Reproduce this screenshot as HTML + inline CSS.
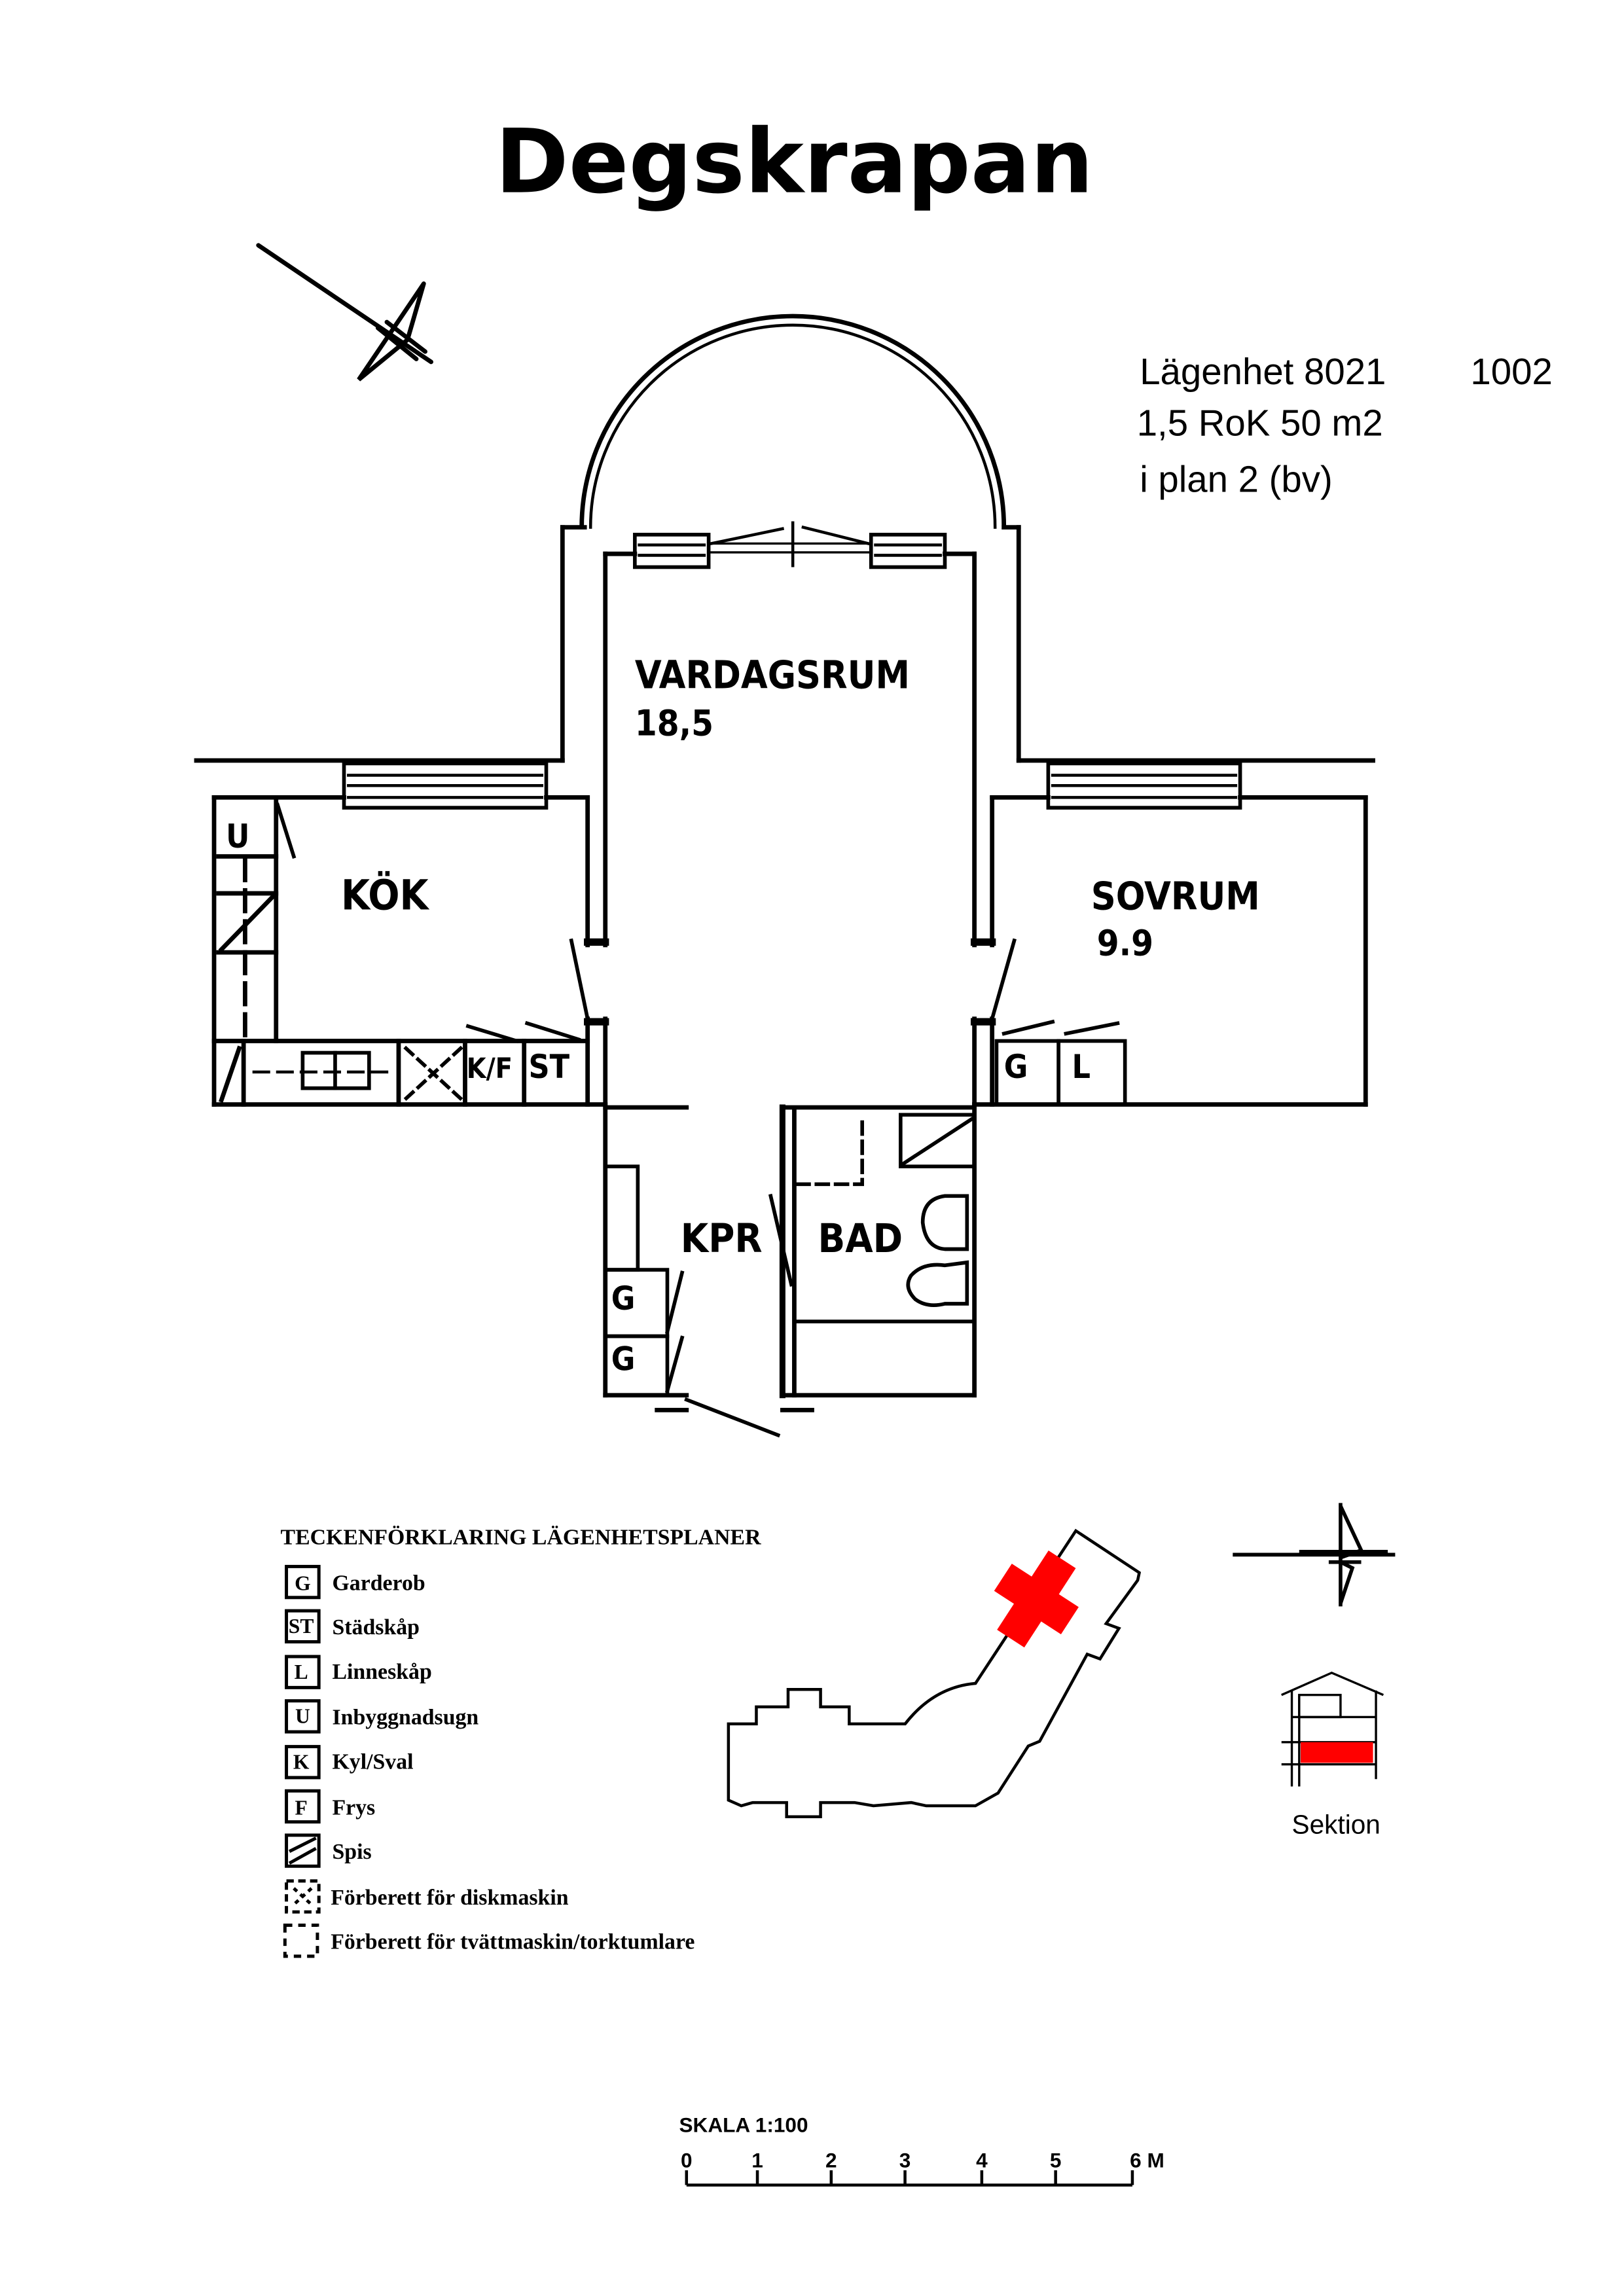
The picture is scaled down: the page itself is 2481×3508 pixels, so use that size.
<!DOCTYPE html>
<html><head><meta charset="utf-8">
<style>
html,body{margin:0;padding:0;background:#fff;}
svg{display:block;}
</style></head>
<body>
<svg width="2481" height="3508" viewBox="0 0 1100 1555" xmlns="http://www.w3.org/2000/svg">
<rect width="1100" height="1555" fill="#fff"/>
<text x="538" y="130" text-anchor="middle" font-family="'DejaVu Sans','Liberation Sans',sans-serif" font-weight="bold" font-size="60">Degskrapan</text>

<g stroke="#000" stroke-width="3" fill="none" stroke-linecap="round">
<line x1="175" y1="166" x2="292" y2="245"/>
<polyline points="287,192 276,230 243,257 287,192"/>
<line x1="256" y1="222" x2="282" y2="243"/>
<line x1="262" y1="218" x2="288" y2="238"/>
</g>

<g font-family="'Liberation Sans',sans-serif" font-size="25" fill="#000">
<text x="772" y="260">Lägenhet  8021</text>
<text x="996" y="260">1002</text>
<text x="770" y="295">1,5 RoK  50 m2</text>
<text x="772" y="333">i  plan 2 (bv)</text>
</g>

<g stroke="#000" stroke-width="3" fill="none" stroke-linecap="square">
<path d="M394,357 A143,143 0 0 1 680,357"/>
<path d="M400,357 A137,137 0 0 1 674,357" stroke-width="2"/>
<line x1="381" y1="357" x2="396" y2="357"/>
<line x1="680" y1="357" x2="690" y2="357"/>
<line x1="410" y1="375" x2="430" y2="375"/>
<line x1="640" y1="375" x2="660" y2="375"/>
<rect x="430" y="362" width="50" height="22" stroke-width="2.5"/>
<line x1="433" y1="369" x2="477" y2="369" stroke-width="2"/>
<line x1="433" y1="376" x2="477" y2="376" stroke-width="2"/>
<rect x="590" y="362" width="50" height="22" stroke-width="2.5"/>
<line x1="593" y1="369" x2="637" y2="369" stroke-width="2"/>
<line x1="593" y1="376" x2="637" y2="376" stroke-width="2"/>
<line x1="480" y1="368" x2="590" y2="368" stroke-width="1.5"/>
<line x1="480" y1="374" x2="590" y2="374" stroke-width="1.5"/>
<line x1="537" y1="354" x2="537" y2="383" stroke-width="2"/>
<line x1="482" y1="368" x2="530" y2="358" stroke-width="2"/>
<line x1="588" y1="368" x2="544" y2="357" stroke-width="2"/>
<line x1="381" y1="357" x2="381" y2="515"/>
<line x1="410" y1="375" x2="410" y2="640"/>
<line x1="398" y1="540" x2="398" y2="640"/>
<line x1="398" y1="638" x2="410" y2="638" stroke-width="5"/>
<line x1="690" y1="357" x2="690" y2="515"/>
<line x1="660" y1="375" x2="660" y2="640"/>
<line x1="672" y1="540" x2="672" y2="640"/>
<line x1="660" y1="638" x2="672" y2="638" stroke-width="5"/>
<line x1="133" y1="515" x2="381" y2="515"/>
<line x1="145" y1="540" x2="233" y2="540"/>
<line x1="370" y1="540" x2="398" y2="540"/>
<rect x="233" y="517" width="137" height="30" stroke-width="2.5"/>
<line x1="236" y1="525" x2="367" y2="525" stroke-width="2"/>
<line x1="236" y1="532" x2="367" y2="532" stroke-width="2"/>
<line x1="236" y1="540" x2="367" y2="540" stroke-width="2"/>
<line x1="145" y1="540" x2="145" y2="748"/>
<line x1="145" y1="748" x2="410" y2="748"/>
<line x1="187" y1="540" x2="187" y2="705"/>
<line x1="148" y1="580" x2="187" y2="580"/>
<line x1="148" y1="605" x2="187" y2="605"/>
<line x1="148" y1="645" x2="187" y2="645"/>
<line x1="166" y1="582" x2="166" y2="705" stroke-dasharray="14,7"/>
<line x1="150" y1="643" x2="185" y2="607"/>
<line x1="145" y1="705" x2="398" y2="705"/>
<line x1="165" y1="705" x2="165" y2="748"/>
<line x1="150" y1="745" x2="162" y2="710"/>
<line x1="270" y1="705" x2="270" y2="748"/>
<line x1="315" y1="705" x2="315" y2="748"/>
<line x1="355" y1="705" x2="355" y2="748"/>
<rect x="205" y="713" width="45" height="24" stroke-width="2.5"/>
<line x1="227" y1="713" x2="227" y2="737" stroke-width="2.5"/>
<line x1="172" y1="726" x2="265" y2="726" stroke-dasharray="10,6" stroke-width="2"/>
<line x1="275" y1="710" x2="312" y2="744" stroke-dasharray="6,5" stroke-width="2.5"/>
<line x1="312" y1="710" x2="275" y2="744" stroke-dasharray="6,5" stroke-width="2.5"/>
<line x1="317" y1="695" x2="350" y2="705" stroke-width="2.5"/>
<line x1="357" y1="693" x2="392" y2="704" stroke-width="2.5"/>
<line x1="188" y1="545" x2="199" y2="580" stroke-width="2.5"/>
<line x1="398" y1="690" x2="398" y2="748"/>
<line x1="410" y1="690" x2="410" y2="748"/>
<line x1="398" y1="692" x2="410" y2="692" stroke-width="5"/>
<line x1="398" y1="690" x2="387" y2="637" stroke-width="2.5"/>
<line x1="690" y1="515" x2="930" y2="515"/>
<line x1="672" y1="540" x2="710" y2="540"/>
<line x1="840" y1="540" x2="925" y2="540"/>
<rect x="710" y="517" width="130" height="30" stroke-width="2.5"/>
<line x1="713" y1="525" x2="837" y2="525" stroke-width="2"/>
<line x1="713" y1="532" x2="837" y2="532" stroke-width="2"/>
<line x1="713" y1="540" x2="837" y2="540" stroke-width="2"/>
<line x1="925" y1="540" x2="925" y2="748"/>
<line x1="660" y1="748" x2="925" y2="748"/>
<line x1="660" y1="690" x2="660" y2="748"/>
<line x1="672" y1="690" x2="672" y2="748"/>
<line x1="660" y1="692" x2="672" y2="692" stroke-width="5"/>
<line x1="672" y1="690" x2="687" y2="637" stroke-width="2.5"/>
<rect x="675" y="705" width="42" height="43" stroke-width="2.5"/>
<rect x="717" y="705" width="45" height="43" stroke-width="2.5"/>
<line x1="680" y1="700" x2="713" y2="692" stroke-width="2.5"/>
<line x1="722" y1="700" x2="757" y2="693" stroke-width="2.5"/>
<line x1="410" y1="748" x2="410" y2="945"/>
<line x1="410" y1="750" x2="465" y2="750"/>
<line x1="660" y1="748" x2="660" y2="945"/>
<line x1="530" y1="750" x2="660" y2="750"/>
<line x1="530" y1="750" x2="530" y2="945" stroke-width="4"/>
<line x1="538" y1="752" x2="538" y2="945"/>
<line x1="410" y1="945" x2="465" y2="945"/>
<line x1="530" y1="945" x2="660" y2="945"/>
<line x1="445" y1="955" x2="465" y2="955"/>
<line x1="530" y1="955" x2="550" y2="955"/>
<line x1="465" y1="948" x2="527" y2="972" stroke-width="2.5"/>
<rect x="410" y="790" width="22" height="70" stroke-width="2.5"/>
<rect x="410" y="860" width="42" height="45" stroke-width="2.5"/>
<rect x="410" y="905" width="42" height="40" stroke-width="2.5"/>
<line x1="452" y1="902" x2="462" y2="862" stroke-width="2.5"/>
<line x1="452" y1="942" x2="462" y2="906" stroke-width="2.5"/>
<line x1="522" y1="810" x2="536" y2="870" stroke-width="2.5"/>
<polyline points="540,802 584,802 584,755" stroke-dasharray="8,5" stroke-width="2.5"/>
<rect x="610" y="755" width="50" height="35" stroke-width="2.5"/>
<line x1="612" y1="788" x2="658" y2="758" stroke-width="2.5"/>
<path d="M655,810 L640,810 Q625,812 625,828 Q627,845 640,846 L655,846 Z" stroke-width="2.5"/>
<path d="M655,855 L640,857 Q625,855 617,864 Q612,872 620,880 Q628,886 640,883 L655,883 Z" stroke-width="2.5"/>
<line x1="538" y1="895" x2="660" y2="895" stroke-width="2.5"/>
</g>

<g font-family="'DejaVu Sans Condensed','DejaVu Sans',sans-serif" fill="#000" font-weight="bold">
<text x="430" y="466" font-size="26">VARDAGSRUM</text>
<text x="430" y="498" font-size="24">18,5</text>
<text x="231" y="616" font-size="28">KÖK</text>
<text x="739" y="616" font-size="26">SOVRUM</text>
<text x="743" y="647" font-size="24">9.9</text>
<text x="461" y="848" font-size="27">KPR</text>
<text x="554" y="848" font-size="27">BAD</text>
<text x="153" y="574" font-size="22">U</text>
<text x="680" y="730" font-size="22">G</text>
<text x="726" y="730" font-size="22">L</text>
<text x="316" y="730" font-size="19">K/F</text>
<text x="358" y="730" font-size="22">ST</text>
<text x="414" y="887" font-size="22">G</text>
<text x="414" y="928" font-size="22">G</text>
</g>

<g font-family="'Liberation Serif',serif" font-weight="bold" fill="#000">
<text x="190" y="1046" font-size="15">TECKENFÖRKLARING LÄGENHETSPLANER</text>
<g font-size="15">
<text x="225" y="1077">Garderob</text>
<text x="225" y="1107">Städskåp</text>
<text x="225" y="1137">Linneskåp</text>
<text x="225" y="1168">Inbyggnadsugn</text>
<text x="225" y="1198">Kyl/Sval</text>
<text x="225" y="1229">Frys</text>
<text x="225" y="1259">Spis</text>
<text x="224" y="1290">Förberett för diskmaskin</text>
<text x="224" y="1320">Förberett för tvättmaskin/torktumlare</text>
</g>
<g font-size="14" text-anchor="middle">
<text x="205" y="1077">G</text>
<text x="204" y="1106">ST</text>
<text x="204" y="1137">L</text>
<text x="205" y="1167">U</text>
<text x="204" y="1198">K</text>
<text x="204" y="1229">F</text>
</g>
</g>
<g stroke="#000" stroke-width="2.2" fill="none">
<rect x="194" y="1061" width="22" height="21"/>
<rect x="194" y="1091" width="22" height="21"/>
<rect x="194" y="1122" width="22" height="21"/>
<rect x="194" y="1152" width="22" height="21"/>
<rect x="194" y="1183" width="22" height="21"/>
<rect x="194" y="1213" width="22" height="21"/>
<rect x="194" y="1243" width="22" height="21"/>
<line x1="196" y1="1254" x2="214" y2="1245"/>
<line x1="196" y1="1262" x2="214" y2="1252"/>
<rect x="194" y="1274" width="22" height="21" stroke-dasharray="5,3"/>
<line x1="199" y1="1279" x2="211" y2="1290" stroke-dasharray="3,3"/>
<line x1="211" y1="1279" x2="199" y2="1290" stroke-dasharray="3,3"/>
<rect x="193" y="1304" width="22" height="21" stroke-dasharray="5,4"/>
</g>

<path d="M493.4,1167.6 L512.3,1167.6 L512.3,1156.1 L533.8,1156.1 L533.8,1144.3 L555.8,1144.3 L555.8,1156.1 L575.2,1156.1 L575.2,1167.6 L613.1,1167.6 Q632.5,1142.7 660.7,1140.2 L728.7,1036.8 L771.7,1065.2 L770.6,1070.3 L749.2,1099.7 L757.9,1102.9 L745.1,1123.6 L736.4,1120.4 L704.2,1179.4 L696.5,1182.6 L676,1214.5 L660.7,1223.1 L627.4,1223.1 L617.2,1220.9 L591.6,1223.1 L578.8,1220.9 L555.8,1220.9 L555.8,1230.5 L532.8,1230.5 L532.8,1220.9 L509.8,1220.9 L502.1,1223.1 L493.4,1219.3 Z" fill="none" stroke="#000" stroke-width="2"/>
<g transform="translate(702,1083) rotate(-57)" fill="#f00">
<rect x="-32" y="-11" width="64" height="22"/>
<rect x="-11" y="-27" width="22" height="54"/>
</g>

<g stroke="#000" stroke-width="2.5" fill="none">
<line x1="835" y1="1053" x2="945" y2="1053"/>
<line x1="880" y1="1051" x2="940" y2="1051"/>
<line x1="908" y1="1018" x2="908" y2="1088"/>
<polyline points="908,1020 922,1050 908,1055"/>
<polyline points="908,1058 916,1062 908,1086"/>
<line x1="900" y1="1058" x2="922" y2="1058"/>
</g>

<g stroke="#000" stroke-width="1.5" fill="none">
<polyline points="868,1148 902,1133 937,1148"/>
<line x1="875" y1="1145" x2="875" y2="1210"/>
<line x1="932" y1="1145" x2="932" y2="1205"/>
<line x1="875" y1="1163" x2="932" y2="1163"/>
<line x1="868" y1="1180" x2="932" y2="1180"/>
<line x1="868" y1="1195" x2="932" y2="1195"/>
<line x1="880" y1="1148" x2="880" y2="1210"/>
<rect x="880" y="1148" width="28" height="15"/>
</g>
<rect x="881" y="1180" width="49" height="14" fill="#f00"/>
<text x="875" y="1242" font-family="'Liberation Sans',sans-serif" font-size="18">Sektion</text>

<g font-family="'Liberation Sans',sans-serif" font-weight="bold" font-size="14" fill="#000">
<text x="460" y="1444">SKALA 1:100</text>
<text x="465" y="1468" text-anchor="middle">0</text>
<text x="513" y="1468" text-anchor="middle">1</text>
<text x="563" y="1468" text-anchor="middle">2</text>
<text x="613" y="1468" text-anchor="middle">3</text>
<text x="665" y="1468" text-anchor="middle">4</text>
<text x="715" y="1468" text-anchor="middle">5</text>
<text x="777" y="1468" text-anchor="middle">6 M</text>
</g>
<g stroke="#000" stroke-width="2">
<line x1="465" y1="1480" x2="767" y2="1480"/>
<line x1="465" y1="1470" x2="465" y2="1480"/>
<line x1="513" y1="1470" x2="513" y2="1480"/>
<line x1="563" y1="1470" x2="563" y2="1480"/>
<line x1="613" y1="1470" x2="613" y2="1480"/>
<line x1="665" y1="1470" x2="665" y2="1480"/>
<line x1="715" y1="1470" x2="715" y2="1480"/>
<line x1="767" y1="1470" x2="767" y2="1480"/>
</g>
</svg>
</body></html>
